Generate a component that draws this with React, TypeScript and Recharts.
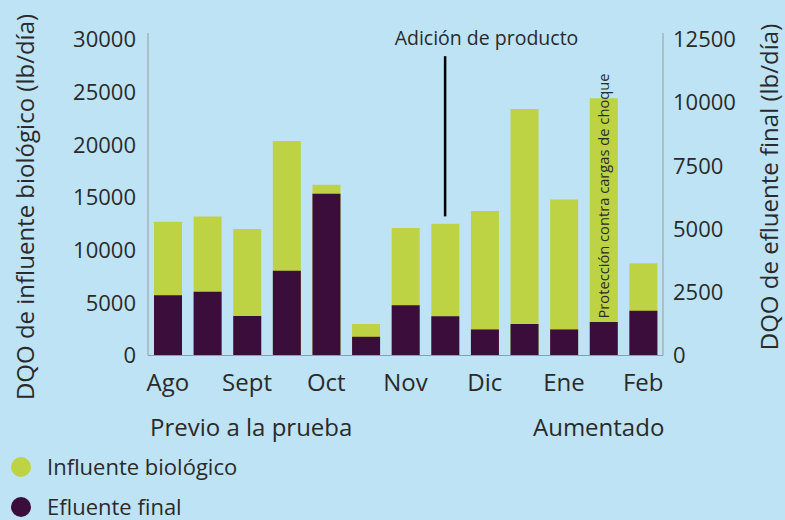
import { Bar, BarChart, ReferenceLine, XAxis, YAxis } from "recharts";

// two readings per month, last one only for Feb
const periods = ["Ago-1", "Ago-2", "Sept-1", "Sept-2", "Oct-1", "Oct-2", "Nov-1", "Nov-2", "Dic-1", "Dic-2", "Ene-1", "Ene-2", "Feb-1"];
const monthLabels = ["Ago", "", "Sept", "", "Oct", "", "Nov", "", "Dic", "", "Ene", "", "Feb"];
const influente = [12700, 13200, 12000, 20350, 16200, 3000, 12100, 12500, 13700, 23400, 14800, 24400, 8750];
const efluente = [2380, 2520, 1560, 3350, 6390, 740, 1990, 1550, 1030, 1250, 1030, 1320, 1770];
const leftTicks = [0, 5000, 10000, 15000, 20000, 25000, 30000];
const rightTicks = [0, 2500, 5000, 7500, 10000, 12500];

const data = periods.map((p, i) => ({
  period: p,
  label: monthLabels[i],
  influente: influente[i],
  efluente: efluente[i],
}));

const BG = "#bee3f5";
const GREEN = "#bed343";
const PURPLE = "#3a0d3b";
const TEXT = "#2a2a2a";
const FONT = "'Open Sans', 'Noto Sans', sans-serif";

const abs = (x: number, y: number, extra: React.CSSProperties = {}): React.CSSProperties => ({
  position: "absolute",
  left: x,
  top: y,
  whiteSpace: "nowrap",
  lineHeight: 1,
  color: TEXT,
  fontFamily: FONT,
  ...extra,
});

const vText = (x: number, y: number, size: number, txt: string) => (
  <text
    x={x}
    y={y}
    fontSize={size}
    fontFamily={FONT}
    fill={TEXT}
    textAnchor="middle"
    dominantBaseline="central"
    transform={`rotate(-90 ${x} ${y})`}
  >
    {txt}
  </text>
);

export default function App() {
  return (
    <div style={{ position: "fixed", left: 0, top: 0, width: 785, height: 520, background: BG, overflow: "hidden", fontFamily: FONT }}>
      <BarChart
        width={785}
        height={520}
        data={data}
        barSize={28}
        margin={{ top: 33, right: 0, bottom: 134.5, left: 0 }}
      >
        <XAxis
          xAxisId="a"
          dataKey="period"
          interval={0}
          tickFormatter={(_v: string, i: number) => monthLabels[i]}
          tickSize={0}
          tickMargin={18}
          height={30}
          stroke="#9a9a9a"
          tick={{ fill: TEXT, fontSize: 24, fontFamily: FONT }}
        />
        <XAxis xAxisId="b" dataKey="period" hide />
        <YAxis
          yAxisId="left"
          orientation="left"
          width={148}
          domain={[0, 30600]}
          ticks={leftTicks}
          tickSize={0}
          tickMargin={12}
          stroke="#9a9a9a"
          tick={{ fill: TEXT, fontSize: 22, fontFamily: FONT }}
        />
        <YAxis
          yAxisId="right"
          orientation="right"
          width={122}
          domain={[0, 12750]}
          ticks={rightTicks}
          tickSize={0}
          tickMargin={10}
          stroke="#9a9a9a"
          tick={{ fill: TEXT, fontSize: 22, fontFamily: FONT, textAnchor: "start" }}
        />
        <Bar xAxisId="a" yAxisId="left" dataKey="influente" fill={GREEN} isAnimationActive={false} />
        <Bar xAxisId="b" yAxisId="right" dataKey="efluente" fill={PURPLE} isAnimationActive={false} />
        <ReferenceLine
          xAxisId="a"
          yAxisId="left"
          segment={[
            { x: "Nov-2", y: 13200 },
            { x: "Nov-2", y: 28400 },
          ]}
          stroke="#000"
          strokeWidth={2.5}
        />
      </BarChart>

      <svg width={785} height={520} style={{ position: "absolute", left: 0, top: 0, pointerEvents: "none" }}>
        {vText(24, 207, 24, "DQO de influente biológico (lb/día)")}
        {vText(768, 187, 24, "DQO de efluente final (lb/día)")}
        {vText(603, 196, 14.7, "Protección contra cargas de choque")}
      </svg>

      <div style={abs(486.5, 38, { fontSize: 19.5, transform: "translate(-50%, -50%)" })}>Adición de producto</div>

      <div style={abs(150, 415, { fontSize: 24 })}>Previo a la prueba</div>
      <div style={abs(533, 415, { fontSize: 24 })}>Aumentado</div>

      <div style={abs(11, 457, { width: 20, height: 20, borderRadius: 10, background: GREEN })} />
      <div style={abs(47, 455, { fontSize: 22 })}>Influente biológico</div>
      <div style={abs(11, 497, { width: 20, height: 20, borderRadius: 10, background: PURPLE })} />
      <div style={abs(47, 495, { fontSize: 22 })}>Efluente final</div>
    </div>
  );
}
